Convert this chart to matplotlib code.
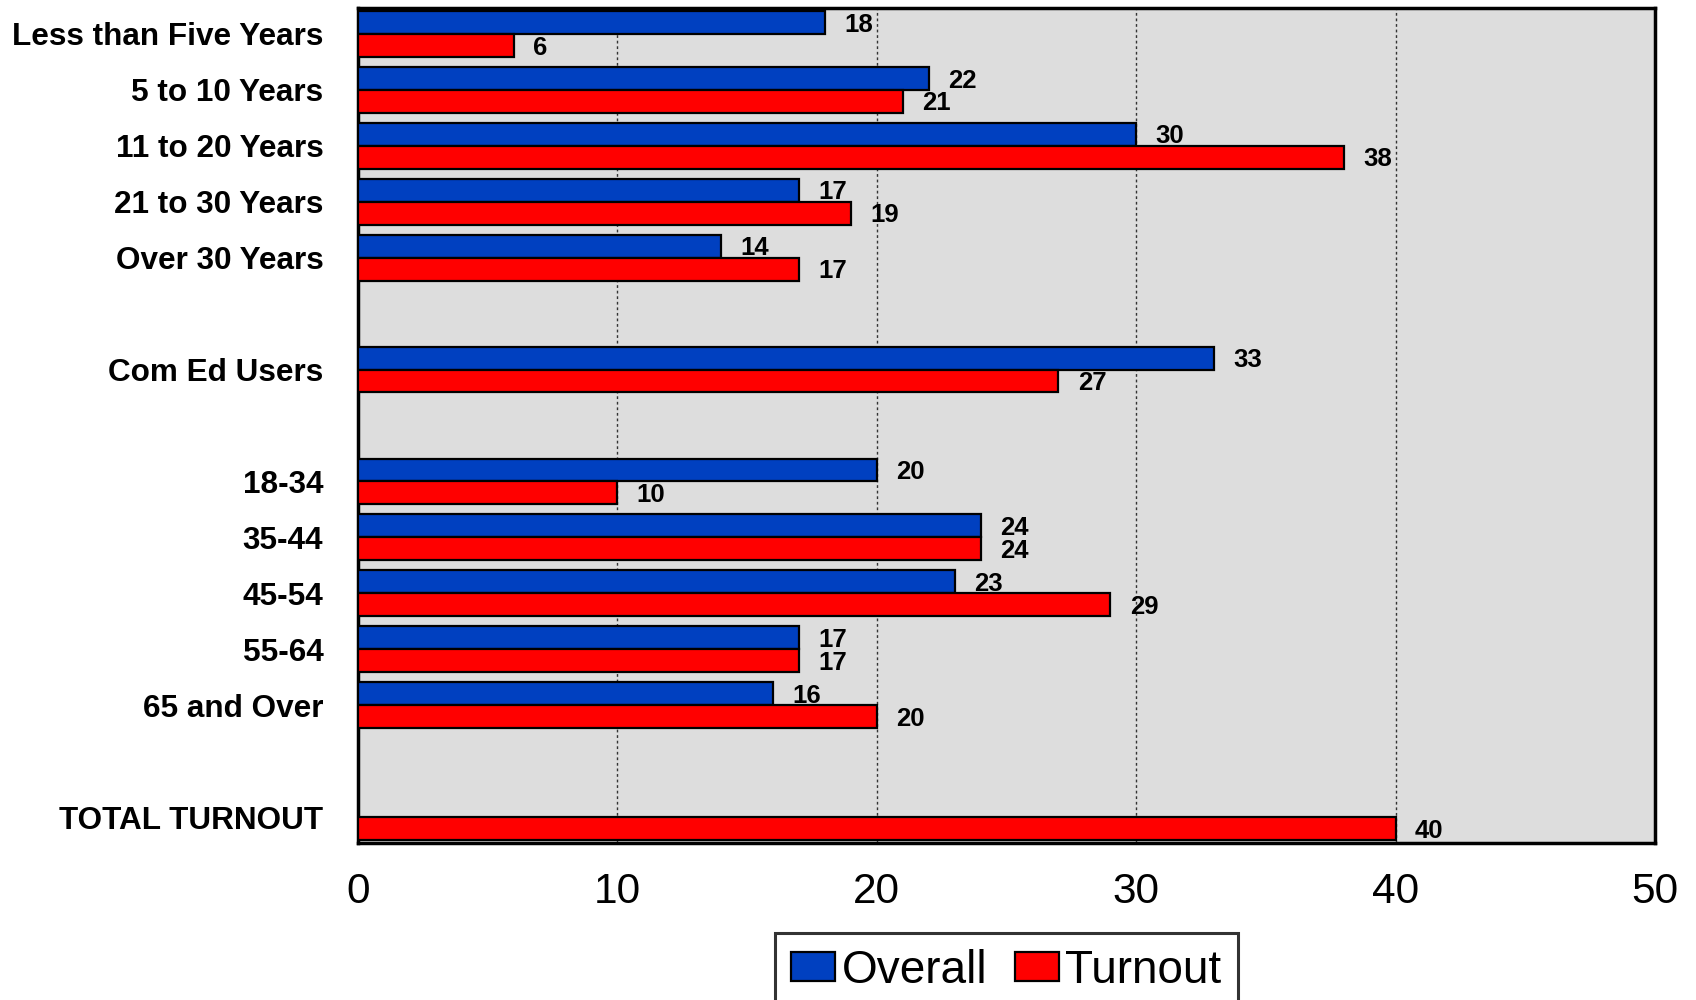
import matplotlib
matplotlib.use("Agg")
import matplotlib.pyplot as plt
import numpy as np

plt.rcParams['font.family'] = ['Liberation Sans', 'DejaVu Sans']

# data, one block per group of rows (an empty row is left between groups)
years_labels = ['Less than Five Years', '5 to 10 Years', '11 to 20 Years', '21 to 30 Years', 'Over 30 Years']
years_overall = [18, 22, 30, 17, 14]
years_turnout = [6, 21, 38, 19, 17]

comed_labels = ['Com Ed Users']
comed_overall = [33]
comed_turnout = [27]

age_labels = ['18-34', '35-44', '45-54', '55-64', '65 and Over']
age_overall = [20, 24, 23, 17, 16]
age_turnout = [10, 24, 29, 17, 20]

total_labels = ['TOTAL TURNOUT']
total_overall = [None]
total_turnout = [40]

groups = [
    (years_labels, years_overall, years_turnout),
    (comed_labels, comed_overall, comed_turnout),
    (age_labels, age_overall, age_turnout),
    (total_labels, total_overall, total_turnout),
]

# row positions with a blank row between groups
labels, overall, turnout, rows = [], [], [], []
pos = 0
for lab, ov, tu in groups:
    for l, o, t in zip(lab, ov, tu):
        labels.append(l)
        overall.append(o)
        turnout.append(t)
        rows.append(pos)
        pos += 1
    pos += 1
rows = np.array(rows, dtype=float)

blue = '#0040C0'
red = '#FF0000'
h = 0.41

fig = plt.figure(figsize=(16.96, 10), dpi=100)
ax = fig.add_axes([358 / 1696, 0.157, (1655 - 358) / 1696, 0.992 - 0.157])
ax.set_facecolor('#DDDDDD')

ov_rows = [r for r, v in zip(rows, overall) if v is not None]
ov_vals = [v for v in overall if v is not None]
b1 = ax.barh(np.array(ov_rows) - h / 2, ov_vals, height=h, color=blue,
             edgecolor='black', linewidth=1.6, label='Overall', zorder=3)
b2 = ax.barh(rows + h / 2, turnout, height=h, color=red,
             edgecolor='black', linewidth=1.6, label='Turnout', zorder=3)

# value labels next to each bar
for r, v in zip(ov_rows, ov_vals):
    ax.annotate(str(v), (v, r - h / 2), xytext=(14, -1.5), textcoords='offset points',
                ha='left', va='center', fontsize=18.5, fontweight='bold')
for r, v in zip(rows, turnout):
    ax.annotate(str(v), (v, r + h / 2), xytext=(14, -1.5), textcoords='offset points',
                ha='left', va='center', fontsize=18.5, fontweight='bold')

ax.set_xlim(0, 50)
ax.set_ylim(rows[-1] + h + 0.054, -h - 0.054)
ax.set_xticks([0, 10, 20, 30, 40, 50])
ax.set_yticks(rows)
ax.set_yticklabels(labels, fontsize=22.7, fontweight='bold')
ax.tick_params(axis='y', length=0, pad=25)
ax.tick_params(axis='x', length=0, pad=21, labelsize=30.5)
ax.grid(axis='x', color='#333333', linestyle=(0, (2, 2)), linewidth=1.0, zorder=1)
ax.set_axisbelow(True)
for s in ax.spines.values():
    s.set_linewidth(2.5)
    s.set_color('black')

leg = fig.legend(handles=[b1, b2], loc='upper center',
                 bbox_to_anchor=((358 + 1655) / 2 / 1696, 0.067),
                 ncol=2, fontsize=33, frameon=True, fancybox=False,
                 edgecolor='black', handlelength=0.95, handleheight=0.6,
                 handletextpad=0.15, columnspacing=0.6, borderpad=0.35,
                 borderaxespad=0)
leg.get_frame().set_linewidth(2.2)

fig.savefig('out.png', dpi=100)
